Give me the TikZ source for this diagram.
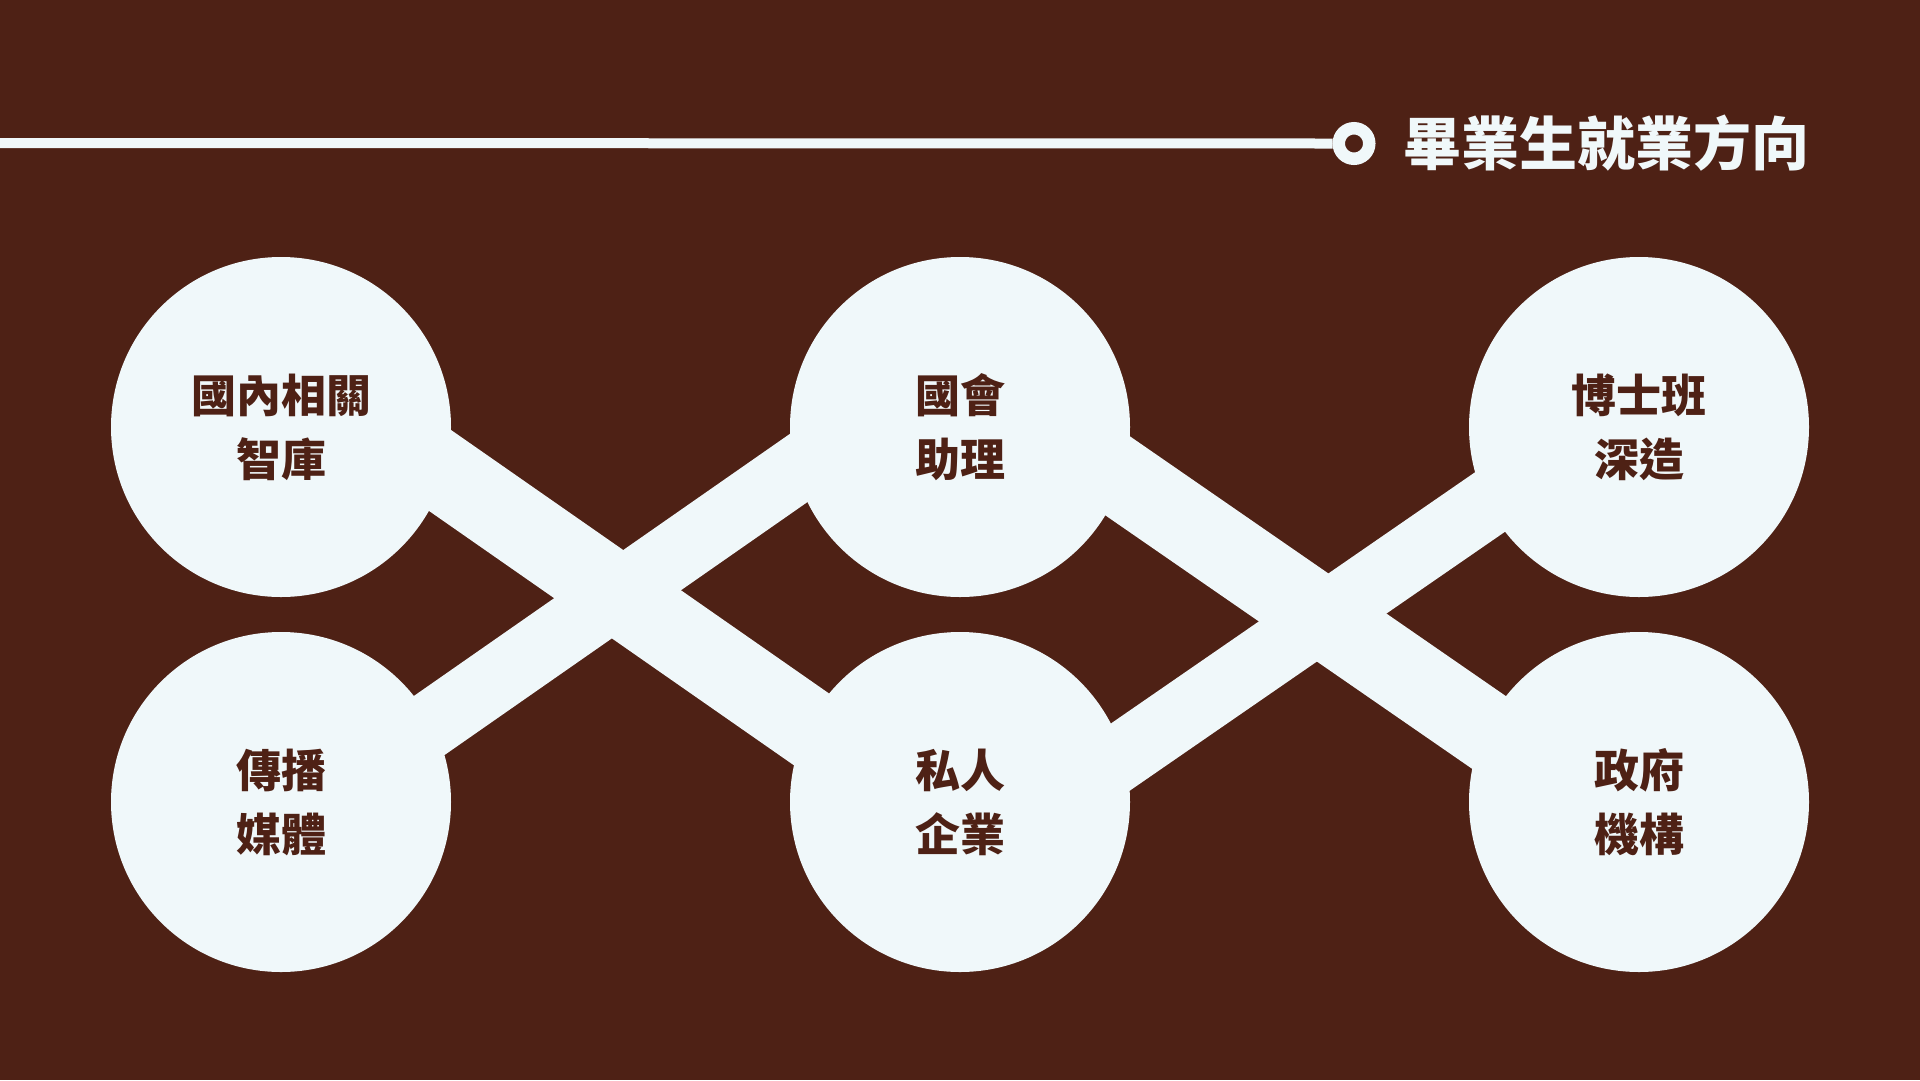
\documentclass[tikz,border=0pt]{standalone}
\usepackage{fontspec}
\setmainfont{Noto Sans CJK TC}
\usetikzlibrary{backgrounds,calc}
\definecolor{bgbrown}{RGB}{78,33,21}
\definecolor{pale}{RGB}{240,248,250}
\tikzset{
  bubble/.style={circle, fill=pale, minimum size=340pt, inner sep=0pt,
    text=bgbrown, align=center, font=\fontsize{45}{64}\selectfont\bfseries},
  thickband/.style={draw=pale, line width=79pt},
  thinband/.style={draw=pale, line width=66pt},
  ringstyle/.style={circle, draw=pale, line width=12.5pt, minimum size=30.5pt, inner sep=0pt},
  titlestyle/.style={text=pale, inner sep=0pt, anchor=west, font=\fontsize{58}{60}\selectfont\bfseries}
}
\begin{document}
\begin{tikzpicture}[x=1pt,y=-1pt]
\useasboundingbox (0,0) rectangle (1920,1080);
% circles
\node[bubble] (tl) at (281,427) {國內相關\\智庫};
\node[bubble] (tm) at (960,427) {國會\\助理};
\node[bubble] (tr) at (1639,427) {博士班\\深造};
\node[bubble] (bl) at (281,802) {傳播\\媒體};
\node[bubble] (bm) at (960,802) {私人\\企業};
\node[bubble] (br) at (1639,802) {政府\\機構};
% title
\coordinate (lineStart) at (0,143);
\node[ringstyle] (ring) at (1354,143.5) {};
\node[titlestyle] (title) at (1403,143.5) {畢業生就業方向};
\draw[pale, line width=10pt] (lineStart) -- (ring.west);
% band end points
\coordinate (b1a) at ($(tl.center)+(0,-67.4)$);
\coordinate (b1b) at ($(bm.center)+(0,30.9)$);
\coordinate (b2a) at ($(bl.center)+(0,26.8)$);
\coordinate (b2b) at ($(tm.center)+(0,-71.5)$);
\coordinate (b3a) at ($(tm.center)+(0,-60.1)$);
\coordinate (b3b) at ($(br.center)+(0,34.1)$);
\coordinate (b4a) at ($(bm.center)+(0,65.7)$);
\coordinate (b4b) at ($(tr.center)+(0,-27.8)$);
\begin{pgfonlayer}{background}
\fill[bgbrown] (0,0) rectangle (1920,1080);
\draw[thickband] (b1a) -- (b1b);
\draw[thinband] (b2a) -- (b2b);
\draw[thickband] (b3a) -- (b3b);
\draw[thinband] (b4a) -- (b4b);
\end{pgfonlayer}
\end{tikzpicture}
\end{document}
